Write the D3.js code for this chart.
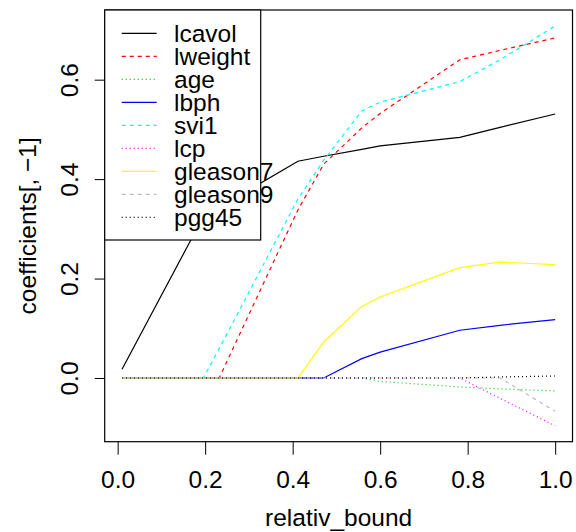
<!DOCTYPE html>
<html>
<head>
<meta charset="utf-8">
<script src="https://cdn.jsdelivr.net/npm/d3@7"></script>
<style>
  body { margin: 0; background: #fff; }
  svg { display: block; font-family: "Liberation Sans", Arial, sans-serif; }
</style>
</head>
<body>
<div id="chart"></div>
<script>
// knots of the path (x) and coefficient values
const relativBound = [0.01, 0.196, 0.232, 0.412, 0.471, 0.558, 0.60, 0.782, 0.874, 1.0];

const lcavol   = [0.0175, 0.325, 0.343, 0.436, 0.446, 0.460, 0.467, 0.484, 0.504, 0.531];
const lweight  = [0, 0, 0, 0.338, 0.430, 0.503, 0.532, 0.640, 0.659, 0.684];
const age      = [0, 0, 0, 0, 0, 0, -0.007, -0.018, -0.022, -0.026];
const lbph     = [0, 0, 0, 0, 0, 0.039, 0.052, 0.096, 0.106, 0.1175];
const svi1     = [0, 0, 0.059, 0.36, 0.438, 0.537, 0.555, 0.596, 0.640, 0.708];
const lcp      = [0, 0, 0, 0, 0, 0, 0, 0, -0.041, -0.096];
const gleason7 = [0, 0, 0, 0, 0.0724, 0.144, 0.163, 0.222, 0.233, 0.228];
const gleason9 = [0, 0, 0, 0, 0, 0, 0, 0, 0, -0.067];
const pgg45    = [0, 0, 0, 0, 0, 0, 0, 0, 0.002, 0.004];

const seriesNames = ["lcavol", "lweight", "age", "lbph", "svi1", "lcp", "gleason7", "gleason9", "pgg45"];
const seriesValues = [lcavol, lweight, age, lbph, svi1, lcp, gleason7, gleason9, pgg45];

const xTicks = [0, 0.2, 0.4, 0.6, 0.8, 1.0];
const yTicks = [0, 0.2, 0.4, 0.6];

// R palette and lty 1:3 cycle
const colors = ["#000000", "#FF0000", "#00CD00", "#0000FF", "#00FFFF", "#FF00FF", "#FFFF00", "#BEBEBE", "#000000"];
const dashes = [null, "4,4", "1,3"];

const W = 576, H = 532;
const plot = { left: 104.7, right: 572.5, top: 10, bottom: 441.7 };
const fontSize = 24.5;

const svg = d3.select("#chart")
  .append("svg")
  .attr("width", W)
  .attr("height", H);

// R style axis ranges: data range padded by 4%
const xExt = d3.extent(relativBound);
const xPad = (xExt[1] - xExt[0]) * 0.04;
const x = d3.scaleLinear()
  .domain([xExt[0] - xPad, xExt[1] + xPad])
  .range([plot.left, plot.right]);

const yExt = d3.extent(seriesValues.flat());
const yPad = (yExt[1] - yExt[0]) * 0.04;
const y = d3.scaleLinear()
  .domain([yExt[0] - yPad, yExt[1] + yPad])
  .range([plot.bottom, plot.top]);

const line = d3.line()
  .x((d, i) => x(relativBound[i]))
  .y(d => y(d));

seriesValues.forEach((vals, i) => {
  svg.append("path")
    .datum(vals)
    .attr("fill", "none")
    .attr("stroke", colors[i])
    .attr("stroke-width", 1.2)
    .attr("stroke-dasharray", dashes[i % 3])
    .attr("d", line);
});

// x axis
const xAxis = svg.append("g")
  .attr("transform", `translate(0, ${plot.bottom})`)
  .call(d3.axisBottom(x).tickValues(xTicks).tickFormat(d3.format(".1f")).tickSize(13).tickPadding(16));
xAxis.select(".domain").remove();
xAxis.selectAll("line").attr("stroke", "#000");
xAxis.selectAll("text")
  .style("font-size", fontSize + "px")
  .attr("fill", "#000");

// y axis
const yAxis = svg.append("g")
  .attr("transform", `translate(${plot.left}, 0)`)
  .call(d3.axisLeft(y).tickValues(yTicks).tickFormat(d3.format(".1f")).tickSize(10));
yAxis.select(".domain").remove();
yAxis.selectAll("line").attr("stroke", "#000");
yAxis.selectAll("text")
  .attr("x", null)
  .attr("dy", null)
  .attr("text-anchor", "middle")
  .attr("transform", "translate(-27, 0) rotate(-90)")
  .style("font-size", fontSize + "px")
  .attr("fill", "#000");

// plot box
svg.append("rect")
  .attr("x", plot.left)
  .attr("y", plot.top)
  .attr("width", plot.right - plot.left)
  .attr("height", plot.bottom - plot.top)
  .attr("fill", "none")
  .attr("stroke", "#000")
  .attr("stroke-width", 1.2);

// axis titles
svg.append("text")
  .attr("x", (plot.left + plot.right) / 2)
  .attr("y", 526)
  .attr("text-anchor", "middle")
  .style("font-size", fontSize + "px")
  .text("relativ_bound");

svg.append("text")
  .attr("transform", `translate(36, ${(plot.top + plot.bottom) / 2}) rotate(-90)`)
  .attr("text-anchor", "middle")
  .style("font-size", fontSize + "px")
  .text("coefficients[, \u22121]");

// legend
const legend = svg.append("g")
  .attr("class", "legend");

legend.append("rect")
  .attr("x", plot.left)
  .attr("y", plot.top)
  .attr("width", 156)
  .attr("height", 230)
  .attr("fill", "#fff")
  .attr("stroke", "#000")
  .attr("stroke-width", 1.2);

seriesNames.forEach((name, i) => {
  const ry = plot.top + 23.3 + i * 23;
  legend.append("line")
    .attr("x1", 121.7)
    .attr("x2", 156.7)
    .attr("y1", ry)
    .attr("y2", ry)
    .attr("stroke", colors[i])
    .attr("stroke-width", 1.2)
    .attr("stroke-dasharray", dashes[i % 3]);

  legend.append("text")
    .attr("x", 174)
    .attr("y", ry + 9)
    .style("font-size", fontSize + "px")
    .text(name);
});
</script>
</body>
</html>
